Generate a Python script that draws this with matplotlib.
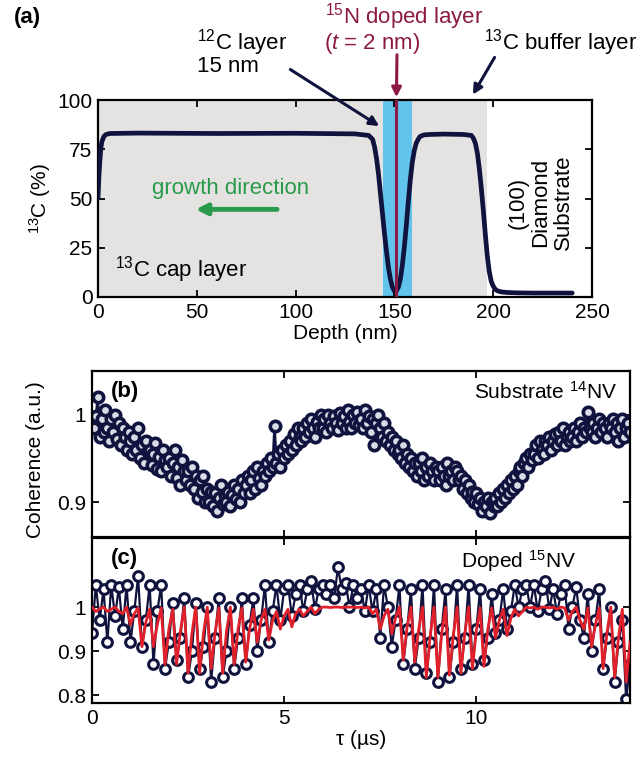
import numpy as np
import matplotlib
matplotlib.use("Agg")
import matplotlib.pyplot as plt

plt.rcParams['font.family'] = ['Liberation Sans', 'DejaVu Sans']
plt.rcParams['mathtext.fontset'] = 'custom'
plt.rcParams['mathtext.rm'] = 'Liberation Sans'
plt.rcParams['mathtext.it'] = 'Liberation Sans:italic'
plt.rcParams['mathtext.bf'] = 'Liberation Sans:bold'

NAVY = '#10133d'
MAROON = '#8c1a45'
GREEN = '#2a9a4c'

# (a) 13C depth profile
depth = [0, 0.5, 1, 1.5, 2, 3, 4, 6, 20, 60, 100, 130, 137, 139, 140, 141, 142, 143,
         144, 145, 146, 147, 148, 149, 150, 151, 152, 153, 154, 155, 156, 157, 158,
         159, 160, 161, 162, 163, 165, 168, 175, 185, 189, 190, 191, 192, 193, 194,
         195, 196, 197, 198, 199, 200, 201, 202, 204, 207, 212, 220, 230, 240]
c13 = [50, 62, 70, 76, 79, 81.5, 82.5, 83, 83.2, 83, 83.1, 82.8, 82, 80, 76, 70, 62, 52,
       42, 32, 23, 15, 9, 5, 3, 3, 5, 9, 16, 25, 36, 48, 59,
       68, 74, 78, 80, 81.5, 82.3, 82.5, 82.7, 82.5, 82, 80.5, 78, 73, 65, 55,
       44, 32, 21, 13, 8, 5.5, 4, 3.2, 2.6, 2.3, 2.1, 2, 2, 2]
grown_region = (0, 197)
c12_layer = (144, 159)
n15_depth = 151

# (b) substrate 14NV coherence, tau = 0 .. 14 us in 0.05 us steps
tau_b = np.arange(281) * 0.05
coh_b = [0.99, 0.985, 0.998, 1.02, 0.975, 0.995, 0.98, 1.005, 0.985, 0.97,
         0.995, 0.98, 1.0, 0.972, 0.99, 0.965, 0.985, 0.975, 0.96, 0.98,
         0.97, 0.955, 0.975, 0.96, 0.985, 0.95, 0.965, 0.945, 0.97, 0.958,
         0.96, 0.942, 0.955, 0.968, 0.938, 0.952, 0.935, 0.96, 0.948, 0.94,
         0.95, 0.93, 0.945, 0.96, 0.928, 0.94, 0.92, 0.948, 0.935, 0.925,
         0.935, 0.92, 0.94, 0.915, 0.93, 0.905, 0.925, 0.912, 0.93, 0.9,
         0.915, 0.9, 0.912, 0.895, 0.91, 0.89, 0.905, 0.92, 0.898, 0.908,
         0.9, 0.912, 0.895, 0.908, 0.92, 0.903, 0.915, 0.9, 0.925, 0.91,
         0.92, 0.93, 0.91, 0.925, 0.935, 0.915, 0.94, 0.928, 0.92, 0.935,
         0.93, 0.945, 0.935, 0.95, 0.94, 0.987, 0.945, 0.955, 0.94, 0.96,
         0.95, 0.965, 0.955, 0.97, 0.96, 0.978, 0.965, 0.985, 0.975, 0.97,
         0.985, 0.975, 0.99, 0.98, 0.995, 0.985, 0.975, 0.992, 0.985, 1.0,
         0.985, 0.995, 0.98, 1.0, 0.99, 0.985, 0.998, 0.99, 0.982, 1.002,
         0.99, 0.998, 0.985, 1.005, 0.992, 0.985, 1.0, 0.99, 1.003, 0.988,
         0.995, 0.985, 1.005, 0.99, 0.998, 0.98, 0.995, 0.965, 0.99, 1.0,
         0.985, 0.975, 0.99, 0.97, 0.98, 0.965, 0.975, 0.96, 0.97, 0.955,
         0.96, 0.95, 0.965, 0.945, 0.955, 0.94, 0.95, 0.935, 0.945, 0.93,
         0.945, 0.935, 0.95, 0.925, 0.94, 0.93, 0.945, 0.935, 0.925, 0.94,
         0.935, 0.925, 0.94, 0.93, 0.92, 0.945, 0.93, 0.935, 0.925, 0.94,
         0.935, 0.925, 0.93, 0.915, 0.925, 0.91, 0.92, 0.905, 0.912, 0.9,
         0.91, 0.898, 0.905, 0.89, 0.9, 0.895, 0.905, 0.888, 0.9, 0.895,
         0.905, 0.895, 0.91, 0.9, 0.915, 0.905, 0.92, 0.91, 0.925, 0.915,
         0.93, 0.92, 0.935, 0.94, 0.93, 0.945, 0.95, 0.94, 0.955, 0.948,
         0.955, 0.965, 0.95, 0.97, 0.96, 0.955, 0.97, 0.965, 0.975, 0.96,
         0.97, 0.978, 0.965, 0.98, 0.97, 0.985, 0.965, 0.975, 0.98, 0.97,
         0.975, 0.985, 0.97, 0.98, 0.99, 0.975, 0.985, 0.98, 1.003, 0.985,
         0.98, 0.99, 0.975, 0.985, 0.995, 0.98, 0.99, 0.985, 0.975, 0.99,
         0.985, 0.995, 0.98, 0.99, 0.97, 0.985, 0.995, 0.975, 0.985, 0.99,
         0.98]

# (c) doped 15NV coherence and fit
tau_c = np.arange(141) * 0.1
coh_c = [0.94, 1.05, 0.97, 1.04, 0.92, 1.05, 0.98, 1.045,
         0.95, 1.05, 0.92, 0.99, 1.07,
         0.91, 0.97, 1.05, 0.87, 0.99, 1.05,
         0.86, 0.92, 1.01, 0.88, 0.93, 1.02,
         0.84, 0.9, 1.01, 0.86, 0.91, 1.0, 0.83, 0.93, 1.02, 0.84, 0.9,
         1.0, 0.86, 0.93, 1.02, 0.87, 0.96,
         1.02, 0.9, 0.97, 1.05, 0.92, 0.99, 1.05,
         0.97, 1.04, 1.05, 0.98, 1.03,
         1.05, 0.99, 1.04, 1.06, 0.995, 1.04, 1.05,
         1.03, 1.05, 1.02, 1.09, 1.04, 1.055, 1.0, 1.05, 1.02, 1.04, 0.99, 1.05,
         0.99, 1.04, 0.93, 1.05, 1.0, 0.91, 0.97,
         1.05, 0.87, 0.95, 1.04, 0.86, 0.93,
         1.05, 0.85, 0.92, 1.05, 0.83, 0.95, 1.04, 0.84, 0.92, 1.05, 0.86,
         0.93, 1.05, 0.87, 0.95, 1.04, 0.88, 0.93, 1.03,
         0.94, 0.97, 1.04, 0.95, 0.99, 1.05,
         1.0, 1.04, 1.05,
         1.0, 1.05, 0.99, 1.04, 1.06, 0.995, 1.04, 0.985, 1.03, 1.05,
         0.95, 1.0, 1.045, 0.97,
         0.93, 1.03, 0.9, 0.97, 1.04,
         0.86, 0.93, 1.0, 0.83, 0.92, 0.97, 0.79, 0.87]
fit_c = [1.0, 0.99, 0.996, 1.0, 0.99, 0.995, 1.0, 0.99,
         0.985, 1.0, 0.96, 0.985, 0.998,
         0.91, 0.965, 0.995, 0.91, 0.96, 0.998,
         0.87, 0.95, 0.995, 0.87, 0.945, 1.0,
         0.85, 0.94, 1.0, 0.85, 0.94, 1.0, 0.86, 0.94, 0.998, 0.85, 0.945,
         1.0, 0.87, 0.95, 0.998, 0.875, 0.95,
         0.995, 0.92, 0.97, 0.995, 0.925, 0.97, 0.99,
         0.95, 0.98, 0.995, 0.955, 0.985,
         0.995, 0.98, 0.99, 1.0, 0.985, 0.995, 1.0,
         1.0, 0.999, 1.0, 1.0, 0.999, 1.0, 1.0, 1.0, 0.999, 1.0, 0.998, 1.0,
         0.985, 0.995, 0.95, 0.98, 0.995, 0.94, 0.975,
         1.0, 0.88, 0.955, 1.0, 0.875, 0.95,
         1.0, 0.84, 0.935, 1.0, 0.84, 0.94, 1.0, 0.845, 0.935, 1.0, 0.85,
         0.94, 1.0, 0.86, 0.945, 0.998, 0.865, 0.95, 0.998,
         0.93, 0.97, 0.995, 0.935, 0.975, 0.995,
         0.98, 0.99, 1.0,
         0.998, 1.0, 0.995, 1.0, 1.0, 0.998, 1.0, 0.995, 1.0, 0.998,
         0.97, 0.99, 1.0, 0.97,
         0.95, 0.998, 0.91, 0.96, 0.998,
         0.86, 0.94, 1.0, 0.84, 0.93, 0.995, 0.83, 0.92]

W, H = 644, 769
fig = plt.figure(figsize=(W / 100, H / 100), dpi=100)
ax_a = fig.add_axes([98 / W, 1 - 297 / H, 494 / W, 197 / H])
ax_b = fig.add_axes([92 / W, 1 - 537 / H, 538 / W, 166 / H])
ax_c = fig.add_axes([92 / W, 1 - 703 / H, 538 / W, 165 / H])

for ax in (ax_a, ax_b, ax_c):
    ax.tick_params(direction='in', top=True, right=True, length=5, width=1.3,
                   labelsize=15, colors='black', pad=4)
    for s in ax.spines.values():
        s.set_linewidth(1.6)

# ---- panel (a)
ax_a.axvspan(*grown_region, color='#e4e3e1', lw=0, zorder=0)
ax_a.axvspan(*c12_layer, color='#62c3ec', lw=0, zorder=1)
ax_a.plot(depth, c13, color=NAVY, lw=3.4, zorder=3, solid_capstyle='round')
ax_a.axvline(n15_depth, color=MAROON, lw=2.2, zorder=4)
ax_a.set_xlim(0, 250)
ax_a.set_ylim(0, 100)
ax_a.set_xticks([0, 50, 100, 150, 200, 250])
ax_a.set_yticks([0, 25, 50, 75, 100])
ax_a.set_xlabel('Depth (nm)', fontsize=15, labelpad=2)
ax_a.set_ylabel(r'$^{13}$C (%)', fontsize=15, labelpad=3)

ax_a.text(67, 55, 'growth direction', color=GREEN, fontsize=16, ha='center', va='center')
ax_a.annotate('', xy=(48, 44.5), xytext=(92, 44.5),
              arrowprops=dict(arrowstyle='-|>', color=GREEN, lw=3.5, mutation_scale=16))
ax_a.text(8.5, 14, r'$^{13}$C cap layer', fontsize=16, ha='left', va='center')
ax_a.text(224, 48, '(100)\nDiamond\nSubstrate', rotation=90, fontsize=16,
          ha='center', va='center', linespacing=1.1, multialignment='center')

fig.text(14 / W, 1 - 18 / H, '(a)', fontsize=16, fontweight='bold', va='center')
fig.text(404 / W, 1 - 17 / H, r'$^{15}$N doped layer', color=MAROON, fontsize=16,
         ha='center', va='center')
fig.text(372 / W, 1 - 43 / H, r'($\mathit{t}$ = 2 nm)', color=MAROON, fontsize=16,
         ha='center', va='center')
fig.text(197 / W, 1 - 43 / H, r'$^{12}$C layer', fontsize=16, ha='left', va='center')
fig.text(197 / W, 1 - 67 / H, '15 nm', fontsize=16, ha='left', va='center')
fig.text(561 / W, 1 - 43 / H, r'$^{13}$C buffer layer', fontsize=16, ha='center', va='center')

ax_a.annotate('', xy=(n15_depth, 100), xycoords='data',
              xytext=(397, H - 52), textcoords='figure pixels',
              arrowprops=dict(arrowstyle='-|>', color=MAROON, lw=2.2, mutation_scale=14),
              annotation_clip=False)
ax_a.annotate('', xy=(143.5, 86), xycoords='data',
              xytext=(288, H - 68), textcoords='figure pixels',
              arrowprops=dict(arrowstyle='-|>', color=NAVY, lw=2.2, mutation_scale=14),
              annotation_clip=False)
ax_a.annotate('', xy=(189, 101.5), xycoords='data',
              xytext=(496, H - 55), textcoords='figure pixels',
              arrowprops=dict(arrowstyle='-|>', color=NAVY, lw=2.2, mutation_scale=14),
              annotation_clip=False)

# ---- panel (b)
mk_b = dict(marker='o', ms=7.5, mfc='#d8dae6', mec=NAVY, mew=2.6, color=NAVY, lw=1.8)
ax_b.plot(tau_b, coh_b, **mk_b)
ax_b.set_xlim(0, 14)
ax_b.set_ylim(0.86, 1.05)
ax_b.set_xticks([0, 5, 10])
ax_b.set_xticklabels([])
ax_b.set_yticks([0.9, 1.0])
ax_b.set_yticklabels(['0.9', '1'])
ax_b.text(0.035, 0.94, '(b)', transform=ax_b.transAxes, fontsize=16,
          fontweight='bold', va='top')
ax_b.text(0.975, 0.94, r'Substrate $^{14}$NV', transform=ax_b.transAxes,
          fontsize=15, ha='right', va='top')

# ---- panel (c)
mk_c = dict(marker='o', ms=7, mfc='white', mec=NAVY, mew=2.2, color=NAVY, lw=1.6)
ax_c.plot(tau_c, coh_c, **mk_c)
ax_c.plot(tau_c, fit_c, color='#e0202a', lw=2.0, zorder=3)
ax_c.set_xlim(0, 14)
ax_c.set_ylim(0.782, 1.157)
ax_c.set_xticks([0, 5, 10])
ax_c.set_yticks([0.8, 0.9, 1.0])
ax_c.set_yticklabels(['0.8', '0.9', '1'])
ax_c.set_xlabel('τ (µs)', fontsize=15, labelpad=2)
ax_c.text(0.035, 0.94, '(c)', transform=ax_c.transAxes, fontsize=16,
          fontweight='bold', va='top')
ax_c.text(0.9, 0.94, r'Doped $^{15}$NV', transform=ax_c.transAxes,
          fontsize=15, ha='right', va='top')

fig.text(36 / W, 1 - 460 / H, 'Coherence (a.u.)', rotation=90, fontsize=15,
         ha='center', va='center')

fig.savefig('out.png', dpi=100)
